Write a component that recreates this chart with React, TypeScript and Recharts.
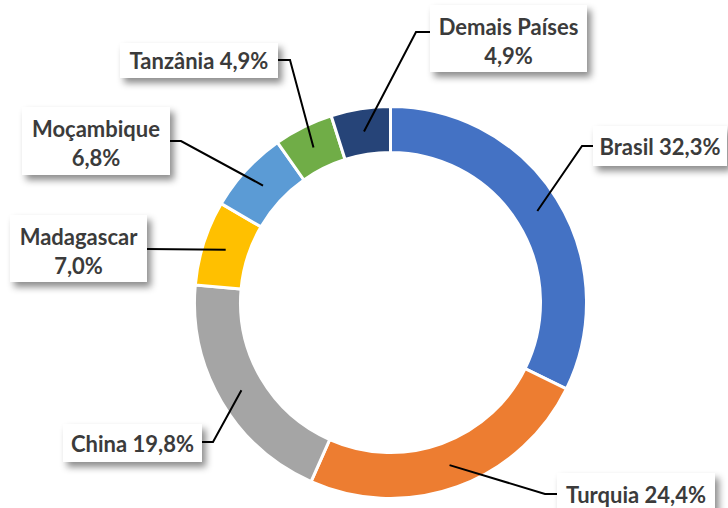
import { Cell, Pie, PieChart } from "recharts";

const countries = [
  "Brasil",
  "Turquia",
  "China",
  "Madagascar",
  "Moçambique",
  "Tanzânia",
  "Demais Países",
];
const shares = [32.3, 24.4, 19.8, 7.0, 6.8, 4.9, 4.9];
const colors = [
  "#4472C4",
  "#ED7D31",
  "#A5A5A5",
  "#FFC000",
  "#5B9BD5",
  "#70AD47",
  "#264478",
];

// label box placement (x, y, w, h), elbow point of the leader, and two-line flag
const boxes = [
  { x: 593, y: 126, w: 134, h: 40, ex: 582, ey: 146, two: false },
  { x: 557, y: 473, w: 158, h: 42, ex: 545, ey: 494, two: false },
  { x: 63, y: 424, w: 139, h: 38, ex: 213, ey: 442, two: false },
  { x: 10, y: 215, w: 137, h: 67, ex: 147, ey: 249, two: true },
  { x: 22, y: 107, w: 148, h: 68, ex: 181, ey: 141, two: true },
  { x: 120, y: 43, w: 158, h: 35, ex: 290, ey: 60, two: false },
  { x: 430, y: 5, w: 157, h: 67, ex: 416, ey: 32, two: true },
];

const data = countries.map((name, i) => ({ name, value: shares[i] }));
const fmt = (v: number) => v.toFixed(1).replace(".", ",") + "%";
const RAD = Math.PI / 180;

const textStyle = {
  fontFamily: "Lato, 'Open Sans', sans-serif",
  fontWeight: 700,
  fontSize: 22,
  fill: "#3b3b3b",
};

function renderLabel(props: any) {
  const { cx, cy, midAngle, innerRadius, outerRadius, index } = props;
  const b = boxes[index];
  const r = (innerRadius + outerRadius) / 2;
  const px = cx + r * Math.cos(-midAngle * RAD);
  const py = cy + r * Math.sin(-midAngle * RAD);
  const edgeX = b.ex < b.x ? b.x : b.x + b.w;
  const name = countries[index];
  const pct = fmt(shares[index]);
  const mid = b.x + b.w / 2;
  return (
    <g key={`lbl-${index}`}>
      <polyline
        points={`${px},${py} ${b.ex},${b.ey} ${edgeX},${b.ey}`}
        fill="none"
        stroke="#000"
        strokeWidth={2}
      />
      <rect
        x={b.x}
        y={b.y}
        width={b.w}
        height={b.h}
        fill="#fff"
        filter="url(#boxShadow)"
      />
      {b.two ? (
        <>
          <text x={mid} y={b.y + 21} textAnchor="middle" dominantBaseline="central" style={textStyle}>
            {name}
          </text>
          <text x={mid} y={b.y + 50} textAnchor="middle" dominantBaseline="central" style={textStyle}>
            {pct}
          </text>
        </>
      ) : (
        <text x={mid} y={b.y + b.h / 2} textAnchor="middle" dominantBaseline="central" style={textStyle}>
          {`${name} ${pct}`}
        </text>
      )}
    </g>
  );
}

export default function App() {
  return (
    <div style={{ position: "absolute", left: 0, top: 0, width: 728, height: 508, background: "#fff" }}>
      <PieChart width={728} height={508} margin={{ top: 0, right: 0, bottom: 0, left: 0 }}>
        <defs>
          <filter id="boxShadow" x="-20%" y="-30%" width="150%" height="180%">
            <feDropShadow dx={4} dy={5} stdDeviation={3.5} floodColor="#000" floodOpacity={0.45} />
          </filter>
        </defs>
        <Pie
          data={data}
          dataKey="value"
          nameKey="name"
          cx={390.5}
          cy={302.5}
          innerRadius={150}
          outerRadius={196}
          startAngle={90}
          endAngle={-270}
          stroke="#fff"
          strokeWidth={3}
          label={renderLabel}
          labelLine={false}
          isAnimationActive={false}
        >
          {data.map((d, i) => (
            <Cell key={d.name} fill={colors[i]} />
          ))}
        </Pie>
      </PieChart>
    </div>
  );
}
